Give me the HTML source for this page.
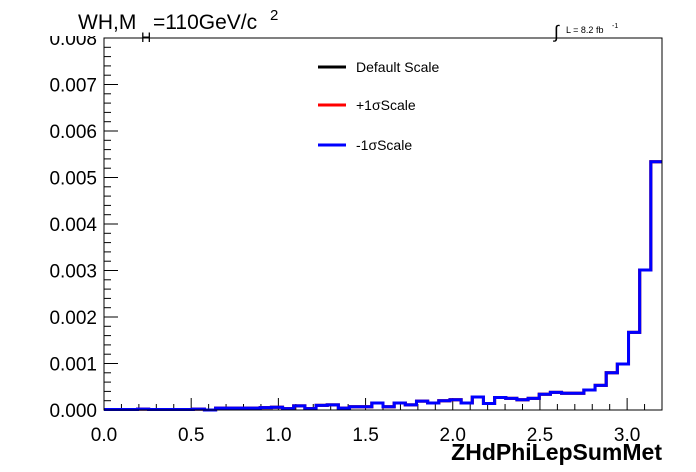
<!DOCTYPE html>
<html><head><meta charset="utf-8"><style>
body{margin:0;background:#fff}
svg{display:block;font-family:"Liberation Sans",sans-serif}
</style></head><body>
<svg id="c" width="696" height="472" viewBox="0 0 696 472">
<g id="ticks"></g>
<g id="series"></g>
<rect x="104" y="38" width="558" height="372" fill="none" stroke="#000" stroke-width="1"/>
<g id="labels" font-size="19"></g>
<rect x="30" y="0" width="270" height="36" fill="#fff"/>
<text x="78" y="29" font-size="21">WH,M</text>
<text x="141" y="42" font-size="14">H</text>
<text x="153" y="29" font-size="21">=110GeV/c</text>
<text x="270" y="20" font-size="15">2</text>
<text x="554" y="38" font-size="18">∫</text>
<text x="566" y="33" font-size="9">L = 8.2 fb</text>
<text x="612" y="28" font-size="7">-1</text>
<g font-size="14">
<line x1="318" y1="67" x2="346" y2="67" stroke="#000" stroke-width="3"/>
<text x="356" y="72">Default Scale</text>
<line x1="318" y1="105" x2="346" y2="105" stroke="#f00" stroke-width="3"/>
<text x="356" y="110">+1σScale</text>
<line x1="318" y1="145" x2="346" y2="145" stroke="#00f" stroke-width="3"/>
<text x="356" y="150">-1σScale</text>
</g>
<text x="662" y="460" font-size="23" font-weight="bold" text-anchor="end">ZHdPhiLepSumMet</text>
</svg>
<script>
const values=[0.00001,0.00001,0.00001,0.00002,0.00001,0.00001,0.00001,0.00001,0.00002,0.0,
0.00004,0.00004,0.00004,0.00004,0.00005,0.00006,0.00003,0.00009,0.00003,0.0001,
0.00011,0.00004,0.00007,0.00007,0.00015,0.00007,0.00015,0.00011,0.00019,0.00015,
0.0002,0.00022,0.00015,0.00028,0.00014,0.00027,0.00025,0.00022,0.00025,0.00034,
0.00038,0.00036,0.00036,0.00043,0.00053,0.0008,0.00099,0.00167,0.00301,0.00534];
const seriesNames=["default-scale","plus1sigma-scale","minus1sigma-scale"];
const seriesColors=["#000","#f00","#00f"];
const xTickLabels=["0.0","0.5","1.0","1.5","2.0","2.5","3.0"];
const yTickLabels=["0.000","0.001","0.002","0.003","0.004","0.005","0.006","0.007","0.008"];
const xMin=0,xMax=3.2,yMin=0,yMax=0.008;
const L=104,R=662,T=38,B=410;
const X=v=>L+(v-xMin)/(xMax-xMin)*(R-L);
const Y=v=>B-(v-yMin)/(yMax-yMin)*(B-T);
const NS="http://www.w3.org/2000/svg";
function mk(t,a,p){const e=document.createElementNS(NS,t);for(const k in a)e.setAttribute(k,a[k]);p.appendChild(e);return e;}
const tg=document.getElementById('ticks'),lg=document.getElementById('labels'),sg=document.getElementById('series');
for(let i=0;i<=32;i++){const x=X(i*0.1);const len=i%5==0?12:6;
const t=mk('line',{x1:x,x2:x,y1:B,y2:B-len,stroke:'#000'},tg);

}
for(let i=0;i<=40;i++){const y=Y(i*0.0002);const len=i%5==0?14:7;
const t=mk('line',{x1:L,x2:L+len,y1:y,y2:y,stroke:'#000'},tg);

}
xTickLabels.forEach((s,i)=>{const e=mk('text',{x:X(parseFloat(s)),y:441,'text-anchor':'middle'},lg);e.textContent=s;

});
yTickLabels.forEach((s,i)=>{const e=mk('text',{x:97,y:Y(parseFloat(s))+7,'text-anchor':'end'},lg);e.textContent=s;

});
const w=(xMax-xMin)/values.length;
seriesNames.forEach((n,si)=>{let d='';values.forEach((v,k)=>{const x0=X(k*w),x1=X((k+1)*w),y=Y(v);d+=(k==0?'M':'L')+x0+','+y+'L'+x1+','+y;});
const p=mk('path',{d:d,fill:'none',stroke:seriesColors[si],'stroke-width':3},sg);

});
</script>
</body></html>
